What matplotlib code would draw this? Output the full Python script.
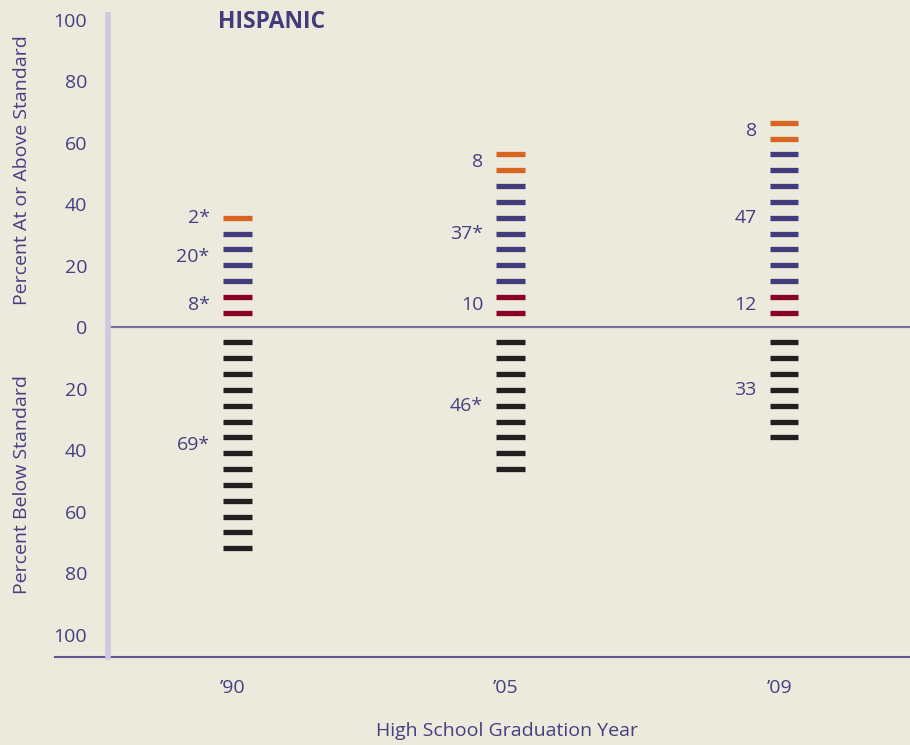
import matplotlib.pyplot as plt

# Data (percent of students)
years = ["\u201990", "\u201905", "\u201909"]
basic = [8, 10, 12]          # red segment
proficient = [20, 37, 47]    # purple segment
advanced = [2, 8, 8]         # orange segment
below = [69, 46, 33]         # black segment
basic_lbl = ["8*", "10", "12"]
prof_lbl = ["20*", "37*", "47"]
adv_lbl = ["2*", "8", "8"]
below_lbl = ["69*", "46*", "33"]

bg = "#ece9dd"
txt = "#463f80"
colors = {"basic": "#8a0026", "prof": "#433b7b", "adv": "#d8651f", "below": "#231f20"}

plt.rcParams["font.family"] = ["Open Sans", "DejaVu Sans"]
fs = 14

fig = plt.figure(figsize=(9.1, 7.45), dpi=100, facecolor=bg)
ax = fig.add_axes([108 / 910, 88 / 745, 802 / 910, 642 / 745], facecolor=bg)

step = 5.15      # one dash stands for ~5 points
first = 4.7
half_w = 0.053

def n_dashes(v):
    return max(1, round(v / 5))

for i in range(len(years)):
    idx = 0
    segs = [(basic[i], basic_lbl[i], colors["basic"]),
            (proficient[i], prof_lbl[i], colors["prof"]),
            (advanced[i], adv_lbl[i], colors["adv"])]
    for val, lbl, c in segs:
        n = n_dashes(val)
        ys = [first + step * (idx + k) for k in range(n)]
        ax.hlines(ys, i - half_w, i + half_w, colors=c, linewidth=3.8, capstyle="butt")
        ax.text(i - 0.1, sum(ys) / n, lbl, ha="right", va="center", color=txt, fontsize=fs)
        idx += n
    n = n_dashes(below[i])
    ys = [-(first + 0.2 + step * k) for k in range(n)]
    ax.hlines(ys, i - half_w, i + half_w, colors=colors["below"], linewidth=3.8, capstyle="butt")
    ax.text(i - 0.1, sum(ys) / n, below_lbl[i], ha="right", va="center", color=txt, fontsize=fs)

ax.set_xlim(-0.4717, 2.4607)
ax.set_ylim(-107.2, 101.5)
ax.axhline(0, color="#77709a", linewidth=1.6)

for s in ["top", "right", "bottom"]:
    ax.spines[s].set_visible(False)
ax.spines["left"].set_color("#cdc9df")
ax.spines["left"].set_linewidth(4)

# bottom rule extends left past the spine
ax.plot([-53 / 802, 1], [0, 0], transform=ax.transAxes, color="#5f5791",
        linewidth=1.5, clip_on=False)

yt = list(range(-100, 101, 20))
ax.set_yticks(yt)
ax.set_yticklabels([str(abs(v)) for v in yt])
ax.set_xticks([i - 0.018 for i in range(len(years))])
ax.set_xticklabels(years)
ax.tick_params(axis="y", length=0, pad=15, labelsize=fs, labelcolor=txt)
ax.tick_params(axis="x", length=0, pad=16, labelsize=fs, labelcolor=txt)

ax.text(-0.107, 51, "Percent At or Above Standard", rotation=90, ha="center", va="center",
        color=txt, fontsize=fs, transform=ax.get_yaxis_transform())
ax.text(-0.107, -51, "Percent Below Standard", rotation=90, ha="center", va="center",
        color=txt, fontsize=fs, transform=ax.get_yaxis_transform())
fig.text(218 / 910, 1 - 22 / 745, "HISPANIC", ha="left", va="center",
         color=colors["prof"], fontsize=16.5, fontweight="bold")
fig.text(507 / 910, 1 - 731 / 745, "High School Graduation Year", ha="center", va="center",
         color=txt, fontsize=fs)

fig.savefig("out.png", dpi=100, facecolor=bg)
